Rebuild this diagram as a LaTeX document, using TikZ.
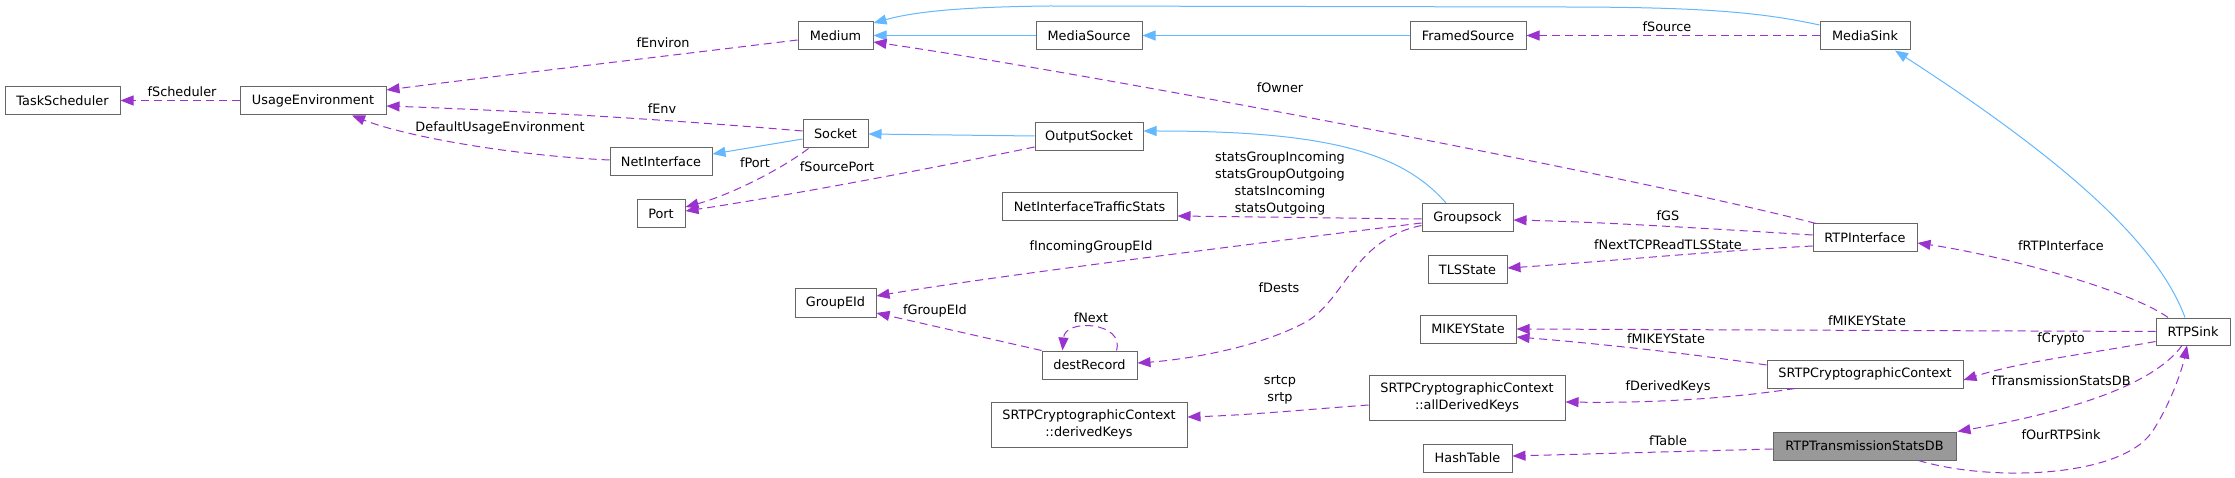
\documentclass[tikz,border=0pt]{standalone}
\usepackage{fontspec}
\setmainfont{DejaVu Sans}
\usetikzlibrary{arrows.meta}
\definecolor{depc}{HTML}{9A32CD}
\definecolor{inhc}{HTML}{63B8FF}
\definecolor{bordc}{HTML}{666666}
\definecolor{fillg}{HTML}{999999}
\begin{document}
\begin{tikzpicture}[x=1pt,y=-1pt,
  font=\fontsize{12.85}{17}\selectfont,
  cls/.style={draw=bordc, line width=1pt, fill=white, minimum height=28pt, inner sep=0pt, anchor=center, align=center},
  cls2/.style={cls, minimum height=45pt},
  dep/.style={draw=depc, line width=1pt, dash pattern=on 8pt off 5pt, -{Triangle[length=13pt,width=10pt,fill=depc]}},
  inh/.style={draw=inhc, line width=1pt, -{Triangle[length=13pt,width=10pt,fill=inhc]}},
  lab/.style={inner sep=0pt, anchor=center, text=black, align=center}]
\useasboundingbox (0,0) rectangle (2235,478);
\fill[white] (0,0) rectangle (2235,478);
% nodes
\node[cls, minimum width=115pt] (TS) at (62.5,101) {TaskScheduler};
\node[cls, minimum width=146pt] (UE) at (313,101) {UsageEnvironment};
\node[cls, minimum width=75pt] (Medium) at (835.5,36) {Medium};
\node[cls, minimum width=106pt] (MSrc) at (1089,36) {MediaSource};
\node[cls, minimum width=116pt] (FSrc) at (1468,36) {FramedSource};
\node[cls, minimum width=90pt] (MSink) at (1865,36) {MediaSink};
\node[cls, minimum width=65pt] (Socket) at (835.5,134) {Socket};
\node[cls, minimum width=108pt] (OSock) at (1089,137) {OutputSocket};
\node[cls, minimum width=102pt] (NetIf) at (661,162) {NetInterface};
\node[cls, minimum width=48pt] (Port) at (661,214) {Port};
\node[cls, minimum width=175pt] (NTS) at (1089.5,207) {NetInterfaceTrafficStats};
\node[cls, minimum width=91pt] (GS) at (1467.5,217.5) {Groupsock};
\node[cls, minimum width=104pt] (RTPIf) at (1865,238) {RTPInterface};
\node[cls, minimum width=79pt] (TLS) at (1467.5,270) {TLSState};
\node[cls, minimum width=81pt] (GEId) at (835.5,303) {GroupEId};
\node[cls, minimum width=95pt] (DR) at (1089.5,365) {destRecord};
\node[cls, minimum width=96pt] (MIKEY) at (1468,329) {MIKEYState};
\node[cls, minimum width=74pt, minimum height=27pt] (RTPSink) at (2193,331.5) {RTPSink};
\node[cls, minimum width=196pt] (SRTP) at (1865,374) {SRTPCryptographicContext};
\node[cls2, minimum width=196pt] (DK) at (1089,424.5) {SRTPCryptographicContext\\::derivedKeys};
\node[cls2, minimum width=196pt] (ADK) at (1467,397.5) {SRTPCryptographicContext\\::allDerivedKeys};
\node[cls, minimum width=89pt] (HT) at (1467.5,458) {HashTable};
\node[cls, minimum width=183pt, fill=fillg] (DB) at (1864.5,446) {RTPTransmissionStatsDB};
% inheritance edges
\draw[inh] ([yshift=0.5pt]MSrc.west) -- ([yshift=0.5pt]Medium.east);
\draw[inh] ([yshift=0.5pt]FSrc.west) -- ([yshift=0.5pt]MSrc.east);
\draw[inh] ([yshift=11pt]MSink.west) .. controls (1760,12) and (1700,7) .. (1560,7) -- (1050,6) .. controls (950,7) and (910,13) .. ([yshift=13pt]Medium.east);
\draw[inh] ([yshift=-5pt]Socket.west) -- ([yshift=8pt]NetIf.east);
\draw[inh] ([yshift=1pt]OSock.west) -- (Socket.east);
\draw[inh] ([xshift=-21.5pt]GS.north) .. controls (1400,150) and (1320,131) .. ([yshift=6pt]OSock.east);
\draw[inh] ([xshift=-8pt]RTPSink.north) .. controls (2160,250) and (2080,170) .. ([xshift=30pt]MSink.south);
% dependency edges
\draw[dep] ([yshift=0.5pt]UE.west) -- ([yshift=0.5pt]TS.east);
\draw[dep] ([yshift=-4pt]Medium.west) .. controls (650,58) and (480,78) .. ([yshift=11pt]UE.east);
\draw[dep] ([yshift=3pt]Socket.west) .. controls (650,118) and (500,110) .. ([yshift=-5pt]UE.east);
\draw[dep] ([yshift=2pt]NetIf.west) .. controls (520,156) and (410,138) .. ([xshift=39pt]UE.south);
\draw[dep] ([xshift=-27pt]Socket.south) .. controls (780,170) and (730,195) .. ([yshift=7pt]Port.east);
\draw[dep] ([yshift=-10pt]OSock.west) .. controls (900,175) and (760,200) .. ([yshift=3pt]Port.east);
\draw[dep] ([yshift=0.5pt]MSink.west) -- ([yshift=0.5pt]FSrc.east);
\draw[dep] ([xshift=-49pt]RTPIf.north) .. controls (1650,180) and (1100,75) .. ([yshift=-6pt]Medium.east);
\draw[dep] ([yshift=-1.5pt]GS.west) -- ([yshift=-9pt]NTS.east);
\draw[dep] ([yshift=-5.5pt]GS.west) .. controls (1300,238) and (1000,275) .. ([yshift=7pt]GEId.east);
\draw[dep] ([yshift=-8pt]GS.west) .. controls (1350,240) and (1345,305) .. (1300,325) .. controls (1250,350) and (1180,360) .. ([yshift=2pt]DR.east);
\draw[dep] (DR.north west) -- ([yshift=-10pt]GEId.east);
\draw[dep] ([xshift=27pt]DR.north) .. controls (1125,322) and (1065,318) .. ([xshift=-27pt]DR.north);
\draw[dep] ([yshift=3pt]RTPIf.west) .. controls (1700,228) and (1600,222) .. ([yshift=-2.5pt]GS.east);
\draw[dep] ([yshift=-8pt]RTPIf.west) .. controls (1700,252) and (1600,262) .. ([yshift=2pt]TLS.east);
\draw[dep] ([xshift=-25pt]RTPSink.north) .. controls (2130,290) and (2000,255) .. ([yshift=-5pt]RTPIf.east);
\draw[dep] (RTPSink.west) -- (MIKEY.east);
\draw[dep] ([yshift=-10pt]RTPSink.west) .. controls (2080,355) and (2020,362) .. ([yshift=-6pt]SRTP.east);
\draw[dep] ([yshift=9pt]SRTP.west) .. controls (1680,352) and (1580,342) .. ([yshift=-8pt]MIKEY.east);
\draw[dep] ([xshift=-70pt]SRTP.south) .. controls (1720,400) and (1640,403) .. ([yshift=-4.5pt]ADK.east);
\draw[dep] ([yshift=-7.5pt]ADK.west) .. controls (1300,410) and (1250,415) .. ([yshift=7.5pt]DK.east);
\draw[dep] ([xshift=-11pt]RTPSink.south) .. controls (2150,390) and (2050,415) .. ([xshift=93pt]DB.north);
\draw[dep] ([yshift=-3pt]DB.west) -- ([yshift=2pt]HT.east);
\draw[dep] ([xshift=54pt]DB.south) .. controls (1990,482) and (2120,478) .. (2152,432) .. controls (2170,405) and (2182,370) .. ([xshift=-6pt]RTPSink.south);
% labels
\node[lab] (l1) at (182,92) {fScheduler};
\node[lab] (l2) at (663,43) {fEnviron};
\node[lab] (l3) at (662,109) {fEnv};
\node[lab] (l4) at (500,128) {DefaultUsageEnvironment};
\node[lab] (l5) at (755,163) {fPort};
\node[lab] (l6) at (837,167) {fSourcePort};
\node[lab] (l7) at (1667,27) {fSource};
\node[lab] (l8) at (1280,88) {fOwner};
\node[lab] (l9) at (1280,183) {statsGroupIncoming\\statsGroupOutgoing\\statsIncoming\\statsOutgoing};
\node[lab] (l10) at (1091,247) {fIncomingGroupEId};
\node[lab] (l11) at (1279,288) {fDests};
\node[lab] (l12) at (935,311) {fGroupEId};
\node[lab] (l13) at (1091,318) {fNext};
\node[lab] (l14) at (1668,216) {fGS};
\node[lab] (l15) at (1668,245) {fNextTCPReadTLSState};
\node[lab] (l16) at (2061,246) {fRTPInterface};
\node[lab] (l17) at (1867,321) {fMIKEYState};
\node[lab] (l18) at (2061,339) {fCrypto};
\node[lab] (l19) at (1666,339) {fMIKEYState};
\node[lab] (l20) at (1668,387) {fDerivedKeys};
\node[lab] (l21) at (1280,390) {srtcp\\srtp};
\node[lab] (l22) at (2061,381) {fTransmissionStatsDB};
\node[lab] (l23) at (1668,441) {fTable};
\node[lab] (l24) at (2061,435) {fOurRTPSink};
\end{tikzpicture}
\end{document}
